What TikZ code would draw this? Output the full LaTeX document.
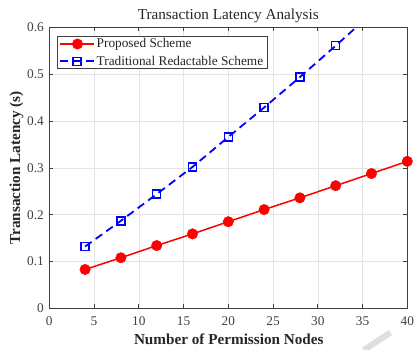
\documentclass[tikz,border=0pt]{standalone}
\usepackage{fontspec}
\setmainfont{Liberation Serif}
\definecolor{axisgray}{HTML}{404040}
\definecolor{textgray}{HTML}{262626}
\definecolor{gridgray}{HTML}{E4E4E4}
\definecolor{markgray}{HTML}{DEDEDE}
\tikzset{
  propline/.style={draw=red, line width=1.5pt},
  tradline/.style={draw=blue, line width=1.8pt, dash pattern=on 8pt off 5pt},
  propmark/.style={circle, fill=red, draw=red, minimum size=10.5pt, inner sep=0pt},
  tradmark/.style={rectangle, draw=blue, line width=1.5pt, minimum size=8pt, inner sep=0pt},
  ticklabel/.style={font=\fontsize{13.3}{13.3}\selectfont, text=axisgray, inner sep=0pt},
  axislabel/.style={font=\fontsize{15.2}{15.2}\selectfont\bfseries, text=textgray, inner sep=0pt},
  titlelabel/.style={font=\fontsize{15.2}{15.2}\selectfont, text=textgray, inner sep=0pt},
  legendtext/.style={font=\fontsize{13.3}{13.3}\selectfont, text=textgray, anchor=west, inner sep=0pt},
  gridline/.style={draw=gridgray, line width=0.6pt},
  axisframe/.style={draw=axisgray, line width=0.7pt},
}
\begin{document}
\begin{tikzpicture}[x=1pt,y=1pt]
\useasboundingbox (0,0) rectangle (416,349);
\fill[white] (0,0) rectangle (416,349);

% plotting area: x in [0,40], y in [0,0.6]
\begin{scope}[shift={(49.3,40.7)}, x=8.95pt, y=468pt]
  % grid
  \foreach \gx in {5,10,...,35} \draw[gridline] (\gx,0) -- (\gx,0.6);
  \foreach \gy in {0.1,0.2,0.3,0.4,0.5} \draw[gridline] (0,\gy) -- (40,\gy);

  % data points
  \foreach \i/\px/\py in {1/4/0.083, 2/8/0.108, 3/12/0.134, 4/16/0.159, 5/20/0.185,
                          6/24/0.211, 7/28/0.236, 8/32/0.262, 9/36/0.288, 10/40/0.314}
    \coordinate (a\i) at (\px,\py);
  \foreach \i/\px/\py in {1/4/0.132, 2/8/0.187, 3/12/0.244, 4/16/0.302, 5/20/0.366,
                          6/24/0.429, 7/28/0.494, 8/32/0.561, 9/36/0.630, 10/40/0.700}
    \coordinate (b\i) at (\px,\py);

  \begin{scope}
    \clip (0,0) rectangle (40,0.6);
    \draw[tradline] (b1) -- (b2) -- (b3) -- (b4) -- (b5) -- (b6) -- (b7) -- (b8) -- (b9) -- (b10);
    \foreach \i in {1,...,8} \node[tradmark] (tb\i) at (b\i) {};
    \draw[propline] (a1) -- (a2) -- (a3) -- (a4) -- (a5) -- (a6) -- (a7) -- (a8) -- (a9) -- (a10);
  \end{scope}
  \foreach \i in {1,...,10} \node[propmark] (pa\i) at (a\i) {};

  % frame and ticks
  \draw[axisframe] (0,0) rectangle (40,0.6);
  \foreach \gx in {5,10,...,35} {
    \draw[axisframe] (\gx,0) -- ++(0,4pt);
    \draw[axisframe] (\gx,0.6) -- ++(0,-4pt);
  }
  \foreach \gy in {0.1,0.2,0.3,0.4,0.5} {
    \draw[axisframe] (0,\gy) -- ++(4pt,0);
    \draw[axisframe] (40,\gy) -- ++(-4pt,0);
  }

  % tick labels
  \foreach \gx in {0,5,...,40}
    \node[ticklabel] (xt\gx) at ([yshift=-12.6pt]\gx,0) {\gx};
  \foreach \gy/\gl in {0/0, 0.1/0.1, 0.2/0.2, 0.3/0.3, 0.4/0.4, 0.5/0.5, 0.6/0.6}
    \node[ticklabel, anchor=east] at ([xshift=-5.3pt]0,\gy) {\gl};
\end{scope}

% title and axis labels
\node[titlelabel] (title) at (228.3,333) {Transaction Latency Analysis};
\node[axislabel] (xlabel) at (228.8,9.5) {Number of Permission Nodes};
\node[axislabel, rotate=90] (ylabel) at (16.5,181.2) {Transaction Latency (s)};

% legend
\node[draw=axisgray, line width=0.6pt, fill=white, minimum width=210pt, minimum height=32pt,
      inner sep=0pt, anchor=north west] (legend) at (57,313) {};
\coordinate (la) at (60,305);
\coordinate (lb) at (94,305);
\coordinate (lc) at (60,287.7);
\coordinate (ld) at (94,287.7);
\draw[propline] (la) -- (lb);
\node[propmark] (lmarkA) at (77.5,305) {};
\draw[tradline] (lc) -- (ld);
\node[tradmark] (lmarkB) at (77,287.7) {};
\node[legendtext] (ltextA) at (96.5,305) {Proposed Scheme};
\node[legendtext] (ltextB) at (96.5,287.7) {Traditional Redactable Scheme};

% faint stroke in the lower right corner
\coordinate (wa) at (390.5,16.5);
\coordinate (wb) at (364,-1);
\draw[markgray, line width=6pt] (wa) -- (wb);
\end{tikzpicture}
\end{document}
